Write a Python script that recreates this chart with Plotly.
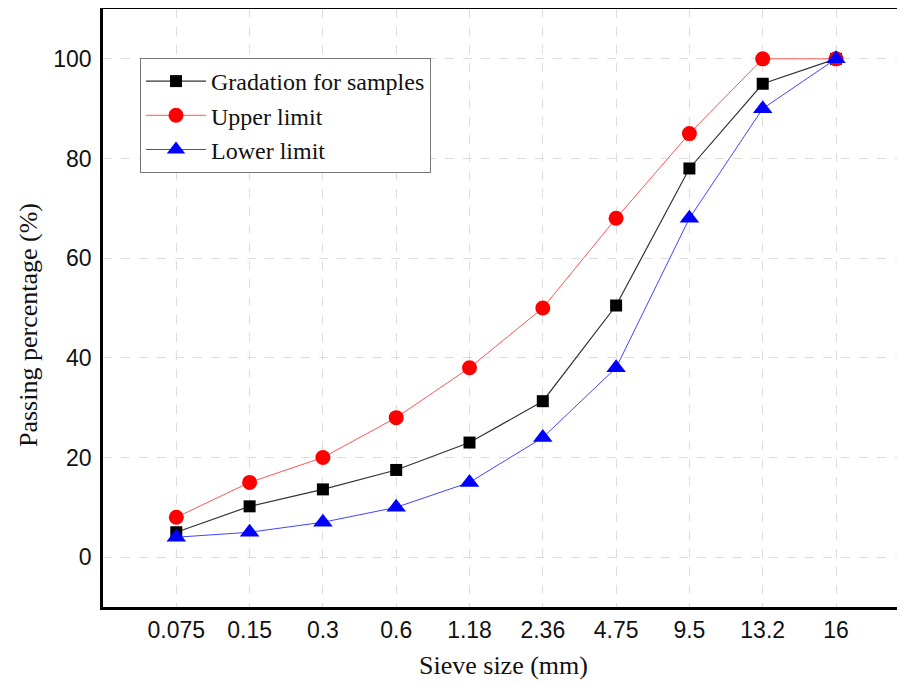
import plotly.graph_objects as go

sieve_sizes = ["0.075", "0.15", "0.3", "0.6", "1.18", "2.36", "4.75", "9.5", "13.2", "16"]
gradation = [5, 10.2, 13.6, 17.5, 23, 31.3, 50.5, 78, 95, 100]
upper_limit = [8, 15, 20, 28, 38, 50, 68, 85, 100, 100]
lower_limit = [4, 5, 7, 10, 15, 24, 38, 68, 90, 100]
y_ticks = [0, 20, 40, 60, 80, 100]

idx = list(range(len(sieve_sizes)))

fig = go.Figure()
fig.add_trace(go.Scatter(x=idx, y=gradation, mode="lines+markers", name="Gradation for samples",
                         line=dict(color="#333333", width=1.2),
                         marker=dict(symbol="square", size=12, color="#000000")))
fig.add_trace(go.Scatter(x=idx, y=upper_limit, mode="lines+markers", name="Upper limit",
                         line=dict(color="#ff5555", width=1),
                         marker=dict(symbol="circle", size=15, color="#ff0000")))
fig.add_trace(go.Scatter(x=idx, y=lower_limit, mode="lines+markers", name="Lower limit",
                         line=dict(color="#4444ff", width=1),
                         marker=dict(symbol="triangle-up", size=17, color="#0000ff")))

# page has an 8px body margin; figure coords = page coords - 8
OFF = 8
W, H = 905 - OFF, 686 - OFF
L = 103 - OFF
T = 8 - OFF + 1
plot_bottom = 607 - OFF
B = H - plot_bottom
pw, ph = W - L, plot_bottom - T


def px_x(page_x):
    return (page_x - OFF - L) / pw


def px_y(page_y):
    return (plot_bottom - (page_y - OFF)) / ph


fig.update_layout(
    width=W, height=H,
    margin=dict(l=L, r=0, t=T, b=B),
    paper_bgcolor="white", plot_bgcolor="white",
    showlegend=True,
    legend=dict(x=px_x(140), y=px_y(58), xanchor="left", yanchor="top",
                bordercolor="#777777", borderwidth=1, bgcolor="white",
                font=dict(family="Liberation Serif", size=24, color="#111111"),
                traceorder="normal", itemwidth=60, tracegroupgap=0),
    xaxis=dict(range=[-1, 9 + (905 - 836) / 73.3], tickmode="array", tickvals=idx, ticktext=sieve_sizes,
               automargin=False,
               showgrid=True, gridcolor="#dddddd", griddash="dash", gridwidth=1,
               showline=True, linecolor="black", linewidth=2.5, mirror=True,
               ticks="", zeroline=False, ticklabelstandoff=1,
               tickfont=dict(family="Liberation Sans", size=23, color="#111111")),
    yaxis=dict(range=[-10, 110], tickmode="array", tickvals=y_ticks,
               automargin=False,
               showgrid=True, gridcolor="#dddddd", griddash="dash", gridwidth=1,
               showline=True, linecolor="black", linewidth=2.5, mirror=False,
               ticks="", zeroline=False, ticklabelstandoff=4,
               tickfont=dict(family="Liberation Sans", size=23, color="#111111")),
    annotations=[
        dict(text="Sieve size (mm)", xref="paper", yref="paper",
             x=px_x(503), y=px_y(665), xanchor="center", yanchor="middle",
             showarrow=False, font=dict(family="Liberation Serif", size=26, color="#111111")),
        dict(text="Passing percentage (%)", xref="paper", yref="paper",
             x=px_x(28), y=px_y(325), xanchor="center", yanchor="middle",
             textangle=-90, showarrow=False,
             font=dict(family="Liberation Serif", size=26, color="#111111")),
    ],
)

fig.write_html("out.html")
